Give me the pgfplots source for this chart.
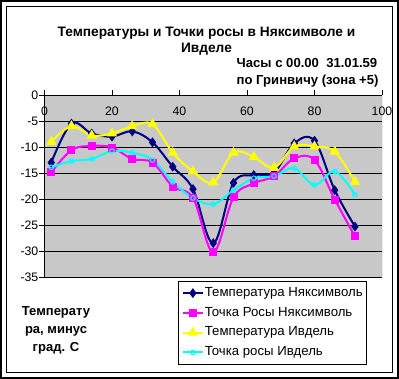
\documentclass[border=0pt]{standalone}
\usepackage{fontspec}
\setmainfont{Liberation Sans}
\usepackage{pgfplots}
\usepackage{pgfplotstable}
\pgfplotsset{compat=1.18}
\definecolor{navyc}{RGB}{0,0,128}
\definecolor{magc}{RGB}{255,0,255}
\definecolor{yelc}{RGB}{255,255,0}
\definecolor{cyac}{RGB}{0,255,255}
\definecolor{bgc}{RGB}{200,200,200}
\pgfplotstableread{
x  tn     dn     ti     di
2  -13.0  -14.9  -9.0   -13.9
8  -5.5   -10.6  -6.0   -12.7
14 -7.4   -9.8   -7.8   -12.3
20 -8.0   -10.1  -7.4   -10.8
26 -7.0   -12.3  -6.0   -11.1
32 -9.1   -13.0  -5.6   -12.5
38 -13.8  -17.6  -11.1  -16.7
44 -18.1  -19.8  -14.7  -19.8
50 -28.5  -30.2  -16.8  -21.0
56 -16.9  -19.7  -11.1  -18.3
62 -15.4  -17.0  -11.9  -16.0
68 -14.9  -15.6  -14.0  -15.6
74 -9.3   -12.2  -9.9   -14.1
80 -8.8   -12.5  -9.9   -17.3
86 -18.3  -20.1  -10.9  -14.7
92 -25.3  -27.2  -16.7  -19.2
}\data
\begin{document}
\begin{tikzpicture}
\path[use as bounding box] (-44.5pt,-102pt) rectangle (354.5pt,277pt);
\draw[line width=2pt] (-43.5pt,-101pt) rectangle (353.5pt,276pt);
\draw[line width=1.2pt] (-38pt,-95.5pt) rectangle (348pt,270.5pt);
\begin{axis}[
  at={(0pt,0pt)}, anchor=south west,
  scale only axis, width=337.5pt, height=182pt,
  xmin=0, xmax=100, ymin=-35, ymax=0,
  axis x line*=top, axis y line*=left,
  axis line style={black, line width=0.8pt},
  axis background/.style={fill=bgc},
  tick align=outside, major tick length=5pt,
  tick style={black, line width=0.8pt},
  xtick={0,20,40,60,80,100}, xticklabels={0,20,40,60,80,100},
  ytick={-35,-30,-25,-20,-15,-10,-5,0},
  yticklabels={-35,-30,-25,-20,-15,-10,-5,0},
  ticklabel style={font=\fontsize{12.3}{14}\selectfont},
  xticklabel style={anchor=north, yshift=-13.5pt},
  yticklabel style={inner sep=1pt},
  ymajorgrids, major grid style={black, line width=0.8pt},
  legend style={at={(axis description cs:0.9556,-0.0203)}, anchor=north east,
    draw=black, line width=0.8pt, fill=white,
    font=\fontsize{13.2}{15}\selectfont,
    inner xsep=3pt, inner ysep=5pt, row sep=5.8pt,
    nodes={inner sep=1pt, text height=9.3pt, text depth=2.7pt}},
  legend cell align=left,
  legend image code/.code={\draw[mark repeat=2,mark phase=2] plot coordinates {(0pt,0pt) (10pt,0pt) (20pt,0pt)};},
]
\addplot[navyc, line width=2pt, smooth, tension=0.6, mark=diamond*, mark size=3.3pt, mark options={solid, fill=navyc}] table[x=x,y=tn]{\data};
\addlegendentry{Температура Няксимволь}
\addplot[magc, line width=2pt, smooth, tension=0.6, mark=square*, mark size=3pt, mark options={solid, fill=magc}] table[x=x,y=dn]{\data};
\addlegendentry{Точка Росы Няксимволь}
\addplot[yelc, line width=2pt, smooth, tension=0.6, mark=triangle*, mark size=4pt, mark options={solid, fill=yelc}] table[x=x,y=ti]{\data};
\addlegendentry{Температура Ивдель}
\addplot[cyac, line width=2pt, smooth, tension=0.6, mark=o, mark size=2.3pt, mark options={solid, line width=1pt}] table[x=x,y=di]{\data};
\addlegendentry{Точка росы Ивдель}
\draw[gray!60!black, line width=0.8pt] (rel axis cs:1,0) -- (rel axis cs:1,1);
\end{axis}
\node[font=\fontsize{13.7}{15}\selectfont\bfseries, anchor=base] at (162pt,240.3pt) {Температуры и Точки росы в Няксимволе и};
\node[font=\fontsize{13.7}{15}\selectfont\bfseries, anchor=base] at (162pt,224pt) {Ивделе};
\node[font=\fontsize{13.1}{15}\selectfont\bfseries, anchor=base west, inner sep=0pt] at (192pt,209.3pt) {Часы с 00.00\ \ 31.01.59};
\node[font=\fontsize{13.1}{15}\selectfont\bfseries, anchor=base west, inner sep=0pt] at (192pt,192.7pt) {по Гринвичу (зона +5)};
\node[font=\fontsize{13}{15}\selectfont\bfseries, anchor=base] at (11.5pt,-39pt) {Температу};
\node[font=\fontsize{13}{15}\selectfont\bfseries, anchor=base] at (11.5pt,-56.3pt) {ра, минус};
\node[font=\fontsize{13}{15}\selectfont\bfseries, anchor=base] at (11.5pt,-74.7pt) {град. С};
\end{tikzpicture}
\end{document}
